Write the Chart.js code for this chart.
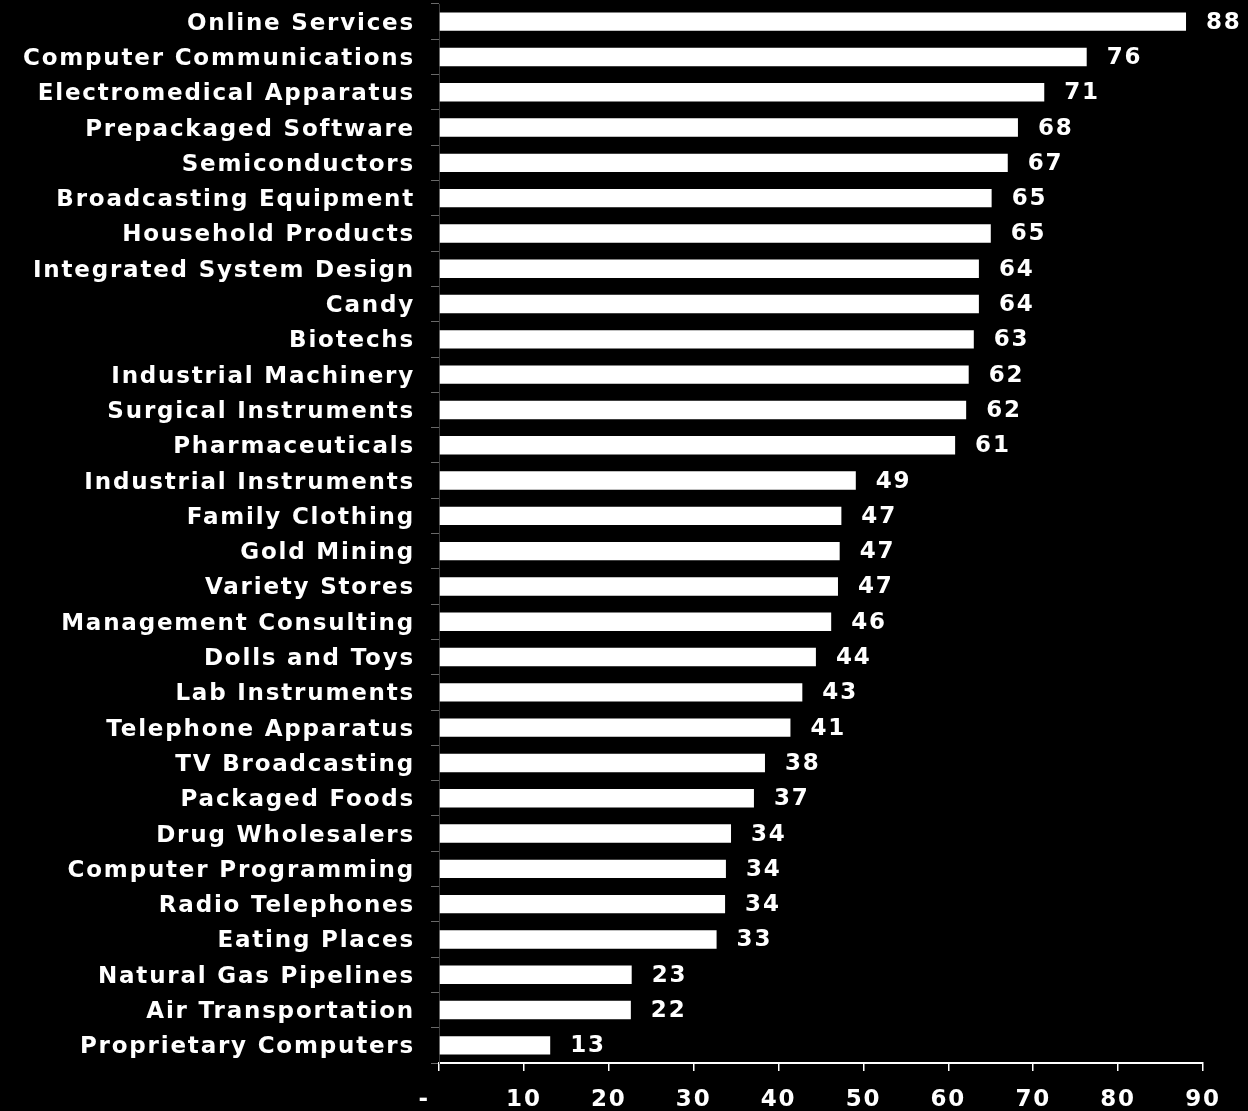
<!DOCTYPE html>
<html>
<head>
<meta charset="utf-8">
<script src="https://cdn.jsdelivr.net/npm/chart.js@4.4.1/dist/chart.umd.min.js"></script>
<style>
  html, body { margin: 0; padding: 0; background: #000; }
  #wrap { width: 1248px; height: 1111px; position: relative; }
</style>
</head>
<body>
<div id="wrap"><canvas id="c" width="1248" height="1111"></canvas></div>
<script>
const categories = [
  "Online Services", "Computer Communications", "Electromedical Apparatus",
  "Prepackaged Software", "Semiconductors", "Broadcasting Equipment",
  "Household Products", "Integrated System Design", "Candy", "Biotechs",
  "Industrial Machinery", "Surgical Instruments", "Pharmaceuticals",
  "Industrial Instruments", "Family Clothing", "Gold Mining", "Variety Stores",
  "Management Consulting", "Dolls and Toys", "Lab Instruments",
  "Telephone Apparatus", "TV Broadcasting", "Packaged Foods",
  "Drug Wholesalers", "Computer Programming", "Radio Telephones",
  "Eating Places", "Natural Gas Pipelines", "Air Transportation",
  "Proprietary Computers"
];
const values = [
  88.0, 76.3, 71.3, 68.2, 67.0, 65.1, 65.0, 63.6, 63.6, 63.0,
  62.4, 62.1, 60.8, 49.1, 47.4, 47.2, 47.0, 46.2, 44.4, 42.8,
  41.4, 38.4, 37.1, 34.4, 33.8, 33.7, 32.7, 22.7, 22.6, 13.1
];
const valueLabels = [
  "88", "76", "71", "68", "67", "65", "65", "64", "64", "63",
  "62", "62", "61", "49", "47", "47", "47", "46", "44", "43",
  "41", "38", "37", "34", "34", "34", "33", "23", "22", "13"
];
const xTickLabels = { 0: "-   ", 10: "10", 20: "20", 30: "30", 40: "40", 50: "50", 60: "60", 70: "70", 80: "80", 90: "90" };

const FONT_FAMILY = "'DejaVu Sans', 'Liberation Sans', Arial, sans-serif";
const LETTER_SPACING = '1.8px';
const FONT_SIZE = 23;

const spacingPlugin = {
  id: 'spacing',
  beforeDraw(chart) {
    chart.ctx.letterSpacing = LETTER_SPACING;
  }
};

const valueLabelPlugin = {
  id: 'valueLabels',
  afterDatasetsDraw(chart) {
    const ctx = chart.ctx;
    const meta = chart.getDatasetMeta(0);
    ctx.save();
    ctx.letterSpacing = LETTER_SPACING;
    ctx.fillStyle = '#ffffff';
    ctx.font = "bold " + FONT_SIZE + "px " + FONT_FAMILY;
    ctx.textAlign = 'left';
    ctx.textBaseline = 'middle';
    meta.data.forEach((bar, i) => {
      ctx.fillText(valueLabels[i], bar.x + 20, bar.y + 1);
    });
    ctx.restore();
  }
};

Chart.defaults.font.family = FONT_FAMILY;
Chart.defaults.font.weight = 'bold';
Chart.defaults.font.size = FONT_SIZE;
Chart.defaults.color = '#ffffff';

new Chart(document.getElementById('c'), {
  type: 'bar',
  data: {
    labels: categories,
    datasets: [{
      data: values,
      backgroundColor: '#ffffff',
      borderWidth: 0,
      barPercentage: 0.52,
      categoryPercentage: 1.0
    }]
  },
  options: {
    indexAxis: 'y',
    responsive: false,
    animation: false,
    devicePixelRatio: 1,
    layout: { padding: { top: 4, right: 45, bottom: 0, left: 0 } },
    plugins: {
      legend: { display: false },
      tooltip: { enabled: false },
      title: { display: false }
    },
    scales: {
      x: {
        min: 0,
        max: 90,
        afterFit(scale) { scale.height = 48; scale.paddingLeft = 0; scale.paddingRight = 0; },
        ticks: {
          stepSize: 10,
          autoSkip: false,
          maxRotation: 0,
          padding: 15,
          color: '#ffffff',
          font: { size: FONT_SIZE, weight: 'bold' },
          callback: (v) => xTickLabels[v] !== undefined ? xTickLabels[v] : v
        },
        grid: {
          drawOnChartArea: false,
          drawTicks: true,
          tickLength: 8,
          color: '#ffffff',
          lineWidth: 1.5
        },
        border: { display: true, color: '#ffffff', width: 2 }
      },
      y: {
        afterFit(scale) { scale.width = 439; scale.paddingTop = 0; scale.paddingBottom = 0; },
        ticks: {
          autoSkip: false,
          padding: 16,
          labelOffset: 2,
          color: '#ffffff',
          font: { size: FONT_SIZE, weight: 'bold' }
        },
        grid: {
          offset: true,
          drawOnChartArea: false,
          drawTicks: true,
          tickLength: 8,
          color: '#6a6a6a',
          lineWidth: 1
        },
        border: { display: true, color: '#3a3a3a', width: 1 }
      }
    }
  },
  plugins: [spacingPlugin, valueLabelPlugin]
});
</script>
</body>
</html>
